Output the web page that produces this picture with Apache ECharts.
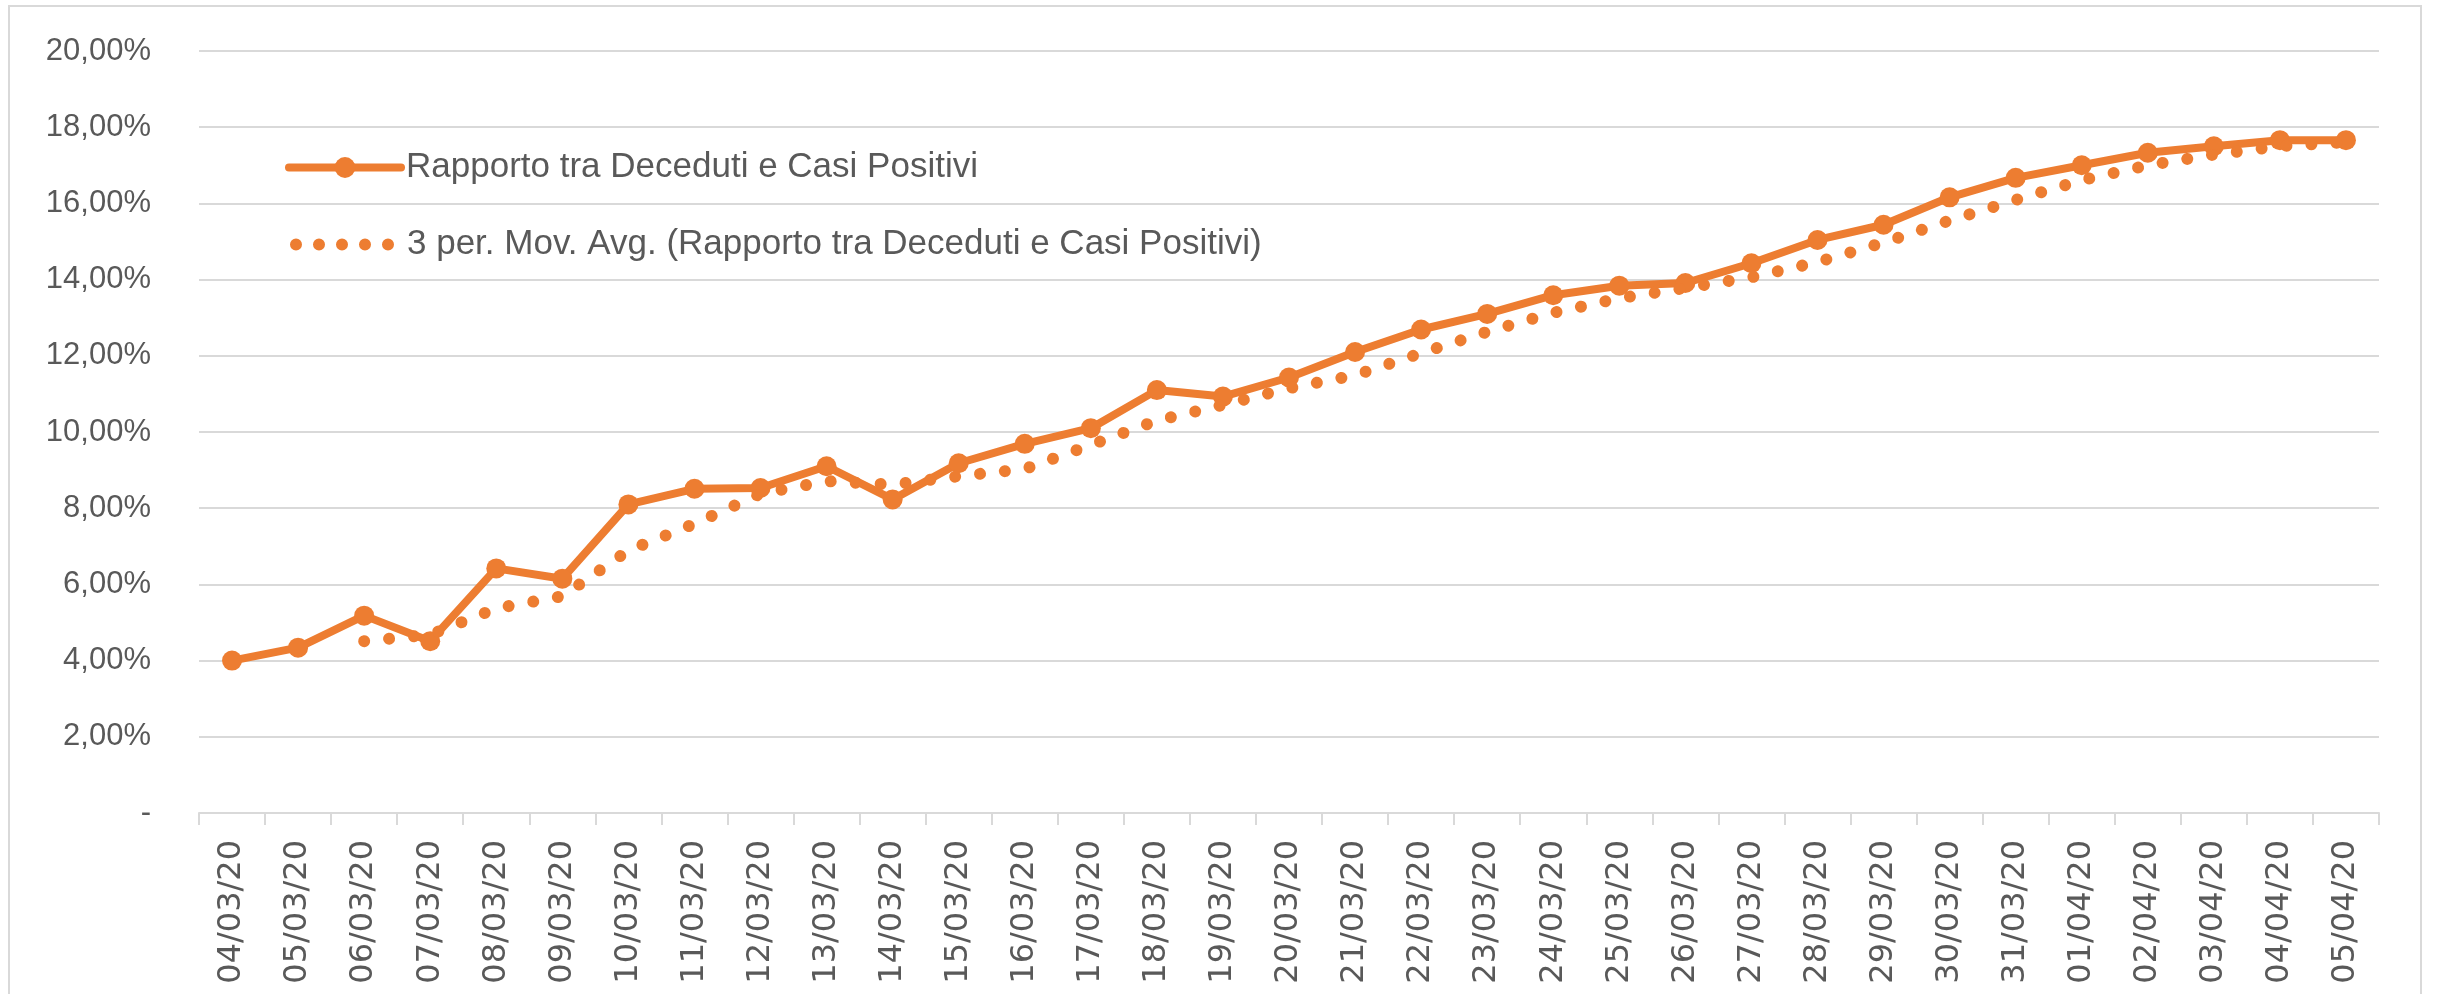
<!DOCTYPE html>
<html>
<head>
<meta charset="utf-8">
<script src="https://cdn.jsdelivr.net/npm/echarts@6/dist/echarts.min.js"></script>
<style>
html,body{margin:0;padding:0;background:#ffffff;}
#chart{width:2438px;height:994px;}
</style>
</head>
<body>
<div id="chart"></div>
<script>
const categories = ['04/03/20','05/03/20','06/03/20','07/03/20','08/03/20','09/03/20','10/03/20','11/03/20','12/03/20','13/03/20','14/03/20','15/03/20','16/03/20','17/03/20','18/03/20','19/03/20','20/03/20','21/03/20','22/03/20','23/03/20','24/03/20','25/03/20','26/03/20','27/03/20','28/03/20','29/03/20','30/03/20','31/03/20','01/04/20','02/04/20','03/04/20','04/04/20','05/04/20'];

// Rapporto tra Deceduti e Casi Positivi (percent)
const ratioValues = [4.00, 4.34, 5.18, 4.51, 6.42, 6.15, 8.10, 8.51, 8.53, 9.10, 8.23, 9.18, 9.69, 10.10, 11.10, 10.93, 11.43, 12.10, 12.69, 13.10, 13.59, 13.84, 13.91, 14.43, 15.04, 15.44, 16.16, 16.67, 17.00, 17.33, 17.50, 17.66, 17.66];

// 3 per. Mov. Avg. trendline (percent)
const movingAvgValues = [null, null, 4.51, 4.68, 5.37, 5.69, 6.89, 7.59, 8.38, 8.71, 8.62, 8.84, 9.03, 9.66, 10.30, 10.71, 11.15, 11.49, 12.07, 12.63, 13.13, 13.51, 13.78, 14.06, 14.46, 14.97, 15.55, 16.09, 16.61, 17.00, 17.28, 17.50, 17.61];

const seriesNames = ['Rapporto tra Deceduti e Casi Positivi', '3 per. Mov. Avg. (Rapporto tra Deceduti e Casi Positivi)'];

const yAxisMin = 0, yAxisMax = 20, yAxisStep = 2;

const ORANGE = '#ED7D31';
const TEXT = '#595959';
const GRID = '#D9D9D9';

const dotsIcon = 'path://' + [0, 23, 46, 69, 92].map(function (x) {
  return 'M' + x + ',6a6,6 0 1,0 12,0a6,6 0 1,0 -12,0';
}).join('');

const chart = echarts.init(document.getElementById('chart'), null, {renderer: 'canvas'});
chart.setOption({
  animation: false,
  backgroundColor: '#ffffff',
  graphic: [{
    type: 'rect',
    shape: {x: 9, y: 6, width: 2412, height: 1010},
    style: {fill: 'none', stroke: GRID, lineWidth: 2},
    silent: true,
    z: -1
  }],
  grid: {left: 199, right: 59, top: 51, bottom: 181, containLabel: false},
  legend: [{
    data: [seriesNames[0]],
    left: 280,
    top: 145,
    orient: 'vertical',
    itemWidth: 112,
    itemHeight: 26,
    lineStyle: {width: 8, color: ORANGE, cap: 'round'},
    textStyle: {color: TEXT, fontSize: 35, fontFamily: 'Liberation Sans, Arial, sans-serif'}
  }, {
    data: [{name: seriesNames[1], icon: dotsIcon}],
    left: 285,
    top: 222,
    orient: 'vertical',
    itemWidth: 104,
    itemHeight: 12,
    itemStyle: {borderWidth: 0},
    textStyle: {color: TEXT, fontSize: 35, fontFamily: 'Liberation Sans, Arial, sans-serif', padding: [0, 0, 0, 8]}
  }],
  xAxis: {
    type: 'category',
    data: categories,
    boundaryGap: true,
    axisLine: {show: true, lineStyle: {color: GRID, width: 2}},
    axisTick: {show: true, length: 12, lineStyle: {color: GRID, width: 2}},
    axisLabel: {
      rotate: 90,
      interval: 0,
      margin: 27,
      color: TEXT,
      fontSize: 32,
      fontFamily: 'DejaVu Sans, Verdana, sans-serif'
    },
    splitLine: {show: false}
  },
  yAxis: {
    type: 'value',
    min: yAxisMin,
    max: yAxisMax,
    interval: yAxisStep,
    axisLine: {show: false},
    axisTick: {show: false},
    splitLine: {show: true, lineStyle: {color: GRID, width: 2}},
    axisLabel: {
      margin: 48,
      color: TEXT,
      fontSize: 31,
      fontFamily: 'Liberation Sans, Arial, sans-serif',
      formatter: function (v) {
        return v === 0 ? '-' : v.toFixed(2).replace('.', ',') + '%';
      }
    }
  },
  series: [{
    name: seriesNames[0],
    type: 'line',
    data: ratioValues,
    symbol: 'circle',
    symbolSize: 20,
    showSymbol: true,
    itemStyle: {color: ORANGE, borderWidth: 0},
    lineStyle: {color: ORANGE, width: 8, join: 'round'},
    z: 2
  }, {
    name: seriesNames[1],
    type: 'line',
    data: movingAvgValues,
    symbol: 'none',
    connectNulls: false,
    itemStyle: {color: ORANGE, borderWidth: 0},
    lineStyle: {color: ORANGE, width: 12, type: [0.01, 25], cap: 'round'},
    z: 3
  }]
});
</script>
</body>
</html>
